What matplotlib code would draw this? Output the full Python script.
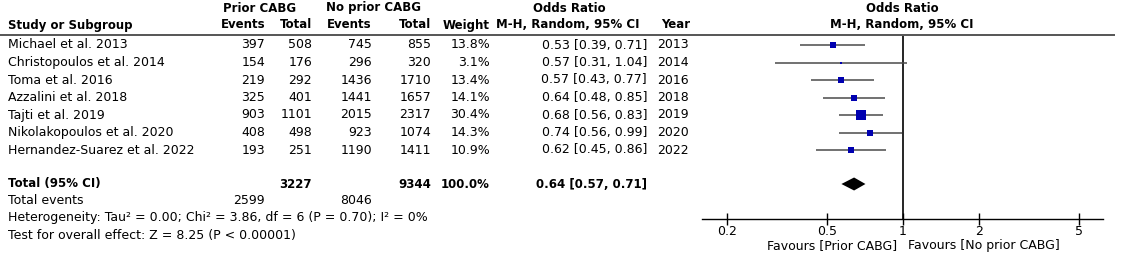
import matplotlib
matplotlib.use("Agg")
import matplotlib.pyplot as plt
import numpy as np

plt.rcParams['font.family'] = ['DejaVu Sans']

studies = ["Michael et al. 2013", "Christopoulos et al. 2014", "Toma et al. 2016",
           "Azzalini et al. 2018", "Tajti et al. 2019", "Nikolakopoulos et al. 2020",
           "Hernandez-Suarez et al. 2022"]
ev_prior = [397, 154, 219, 325, 903, 408, 193]
tot_prior = [508, 176, 292, 401, 1101, 498, 251]
ev_noprior = [745, 296, 1436, 1441, 2015, 923, 1190]
tot_noprior = [855, 320, 1710, 1657, 2317, 1074, 1411]
weights = [13.8, 3.1, 13.4, 14.1, 30.4, 14.3, 10.9]
or_est = [0.53, 0.57, 0.57, 0.64, 0.68, 0.74, 0.62]
or_lo = [0.39, 0.31, 0.43, 0.48, 0.56, 0.56, 0.45]
or_hi = [0.71, 1.04, 0.77, 0.85, 0.83, 0.99, 0.86]
years = [2013, 2014, 2016, 2018, 2019, 2020, 2022]
total_prior = 3227
total_noprior = 9344
total_weight = 100.0
pooled = (0.64, 0.57, 0.71)
total_events = (2599, 8046)
heterogeneity = "Heterogeneity: Tau\u00b2 = 0.00; Chi\u00b2 = 3.86, df = 6 (P = 0.70); I\u00b2 = 0%"
overall = "Test for overall effect: Z = 8.25 (P < 0.00001)"
xticks = [0.2, 0.5, 1, 2, 5]
xticklabels = ["0.2", "0.5", "1", "2", "5"]

W, H = 1133, 271
fig = plt.figure(figsize=(W / 100, H / 100), dpi=100)
ax = fig.add_axes([0, 0, 1, 1])
ax.set_xlim(0, W)
ax.set_ylim(H, 0)
ax.axis('off')

fs = 9.0
fsb = 8.5
row0, rowh = 45, 17.5
row_y = [row0 + i * rowh for i in range(len(studies))]
total_y = row0 + 8 * rowh - 1
events_y = total_y + 17
het_y = events_y + 17
test_y = het_y + 17

col_name = 8
col_e1, col_t1, col_e2, col_t2, col_w, col_or, col_year = 265, 312, 372, 431, 490, 647, 657

def t(x, y, s, ha='left', bold=False):
    ax.text(x, y, s, ha=ha, va='center', fontsize=fsb if bold else fs,
            fontweight='bold' if bold else 'normal', color='black')

# headers
hy1, hy2 = 8, 25
t(260, hy1, "Prior CABG", 'center', True)
t(373, hy1, "No prior CABG", 'center', True)
t(569, hy1, "Odds Ratio", 'center', True)
t(902, hy1, "Odds Ratio", 'center', True)
t(col_name, hy2, "Study or Subgroup", 'left', True)
t(col_e1, hy2, "Events", 'right', True)
t(col_t1, hy2, "Total", 'right', True)
t(col_e2, hy2, "Events", 'right', True)
t(col_t2, hy2, "Total", 'right', True)
t(col_w, hy2, "Weight", 'right', True)
t(568, hy2, "M-H, Random, 95% CI", 'center', True)
t(col_year + 4, hy2, "Year", 'left', True)
t(902, hy2, "M-H, Random, 95% CI", 'center', True)
ax.plot([0, 1115], [35, 35], color='#555555', lw=1.4, solid_capstyle='butt')

for i, y in enumerate(row_y):
    t(col_name, y, studies[i])
    t(col_e1, y, str(ev_prior[i]), 'right')
    t(col_t1, y, str(tot_prior[i]), 'right')
    t(col_e2, y, str(ev_noprior[i]), 'right')
    t(col_t2, y, str(tot_noprior[i]), 'right')
    t(col_w, y, f"{weights[i]:.1f}%", 'right')
    t(col_or, y, f"{or_est[i]:.2f} [{or_lo[i]:.2f}, {or_hi[i]:.2f}]", 'right')
    t(col_year, y, str(years[i]))

t(col_name, total_y, "Total (95% CI)", 'left', True)
t(col_t1, total_y, str(total_prior), 'right', True)
t(col_t2, total_y, str(total_noprior), 'right', True)
t(col_w, total_y, f"{total_weight:.1f}%", 'right', True)
t(col_or, total_y, f"{pooled[0]:.2f} [{pooled[1]:.2f}, {pooled[2]:.2f}]", 'right', True)
t(col_name, events_y, "Total events")
t(col_e1, events_y, str(total_events[0]), 'right')
t(col_e2, events_y, str(total_events[1]), 'right')
t(col_name, het_y, heterogeneity)
t(col_name, test_y, overall)

# forest axes
fx0, fx1 = 702, 1103
fy0, fy1 = 36, 219
fax = fig.add_axes([fx0 / W, 1 - fy1 / H, (fx1 - fx0) / W, (fy1 - fy0) / H])
fax.set_xscale('log')
fax.set_xlim(0.1595, 6.22)
fax.set_ylim(fy1, fy0)
fax.patch.set_alpha(0)
for sp in ['top', 'right', 'left']:
    fax.spines[sp].set_visible(False)
fax.spines['bottom'].set_linewidth(1.0)
fax.set_yticks([])
fax.set_xticks(xticks)
fax.set_xticklabels(xticklabels, fontsize=fs)
fax.xaxis.set_minor_locator(matplotlib.ticker.NullLocator())
fax.tick_params(axis='x', direction='inout', length=8, width=1, pad=0)
fax.axvline(1, color='black', lw=1.2)

for i, y in enumerate(row_y):
    fax.plot([or_lo[i], or_hi[i]], [y, y], color='#4a4a4a', lw=1.1, solid_capstyle='butt')
    side = 1.7 * np.sqrt(weights[i])
    fax.plot([or_est[i]], [y], marker='s', color='#0000b0', markersize=side * 0.72,
             markeredgewidth=0, linestyle='none')

dh = 6.5
est, lo, hi = pooled
fax.fill([lo, est, hi, est], [total_y, total_y - dh, total_y, total_y + dh],
         color='black', lw=0)

fig.text(897 / W, 1 - 246 / H, "Favours [Prior CABG]", ha='right', va='center', fontsize=fs)
fig.text(908 / W, 1 - 246 / H, "Favours [No prior CABG]", ha='left', va='center', fontsize=fs)

fig.savefig("out.png", dpi=100)
